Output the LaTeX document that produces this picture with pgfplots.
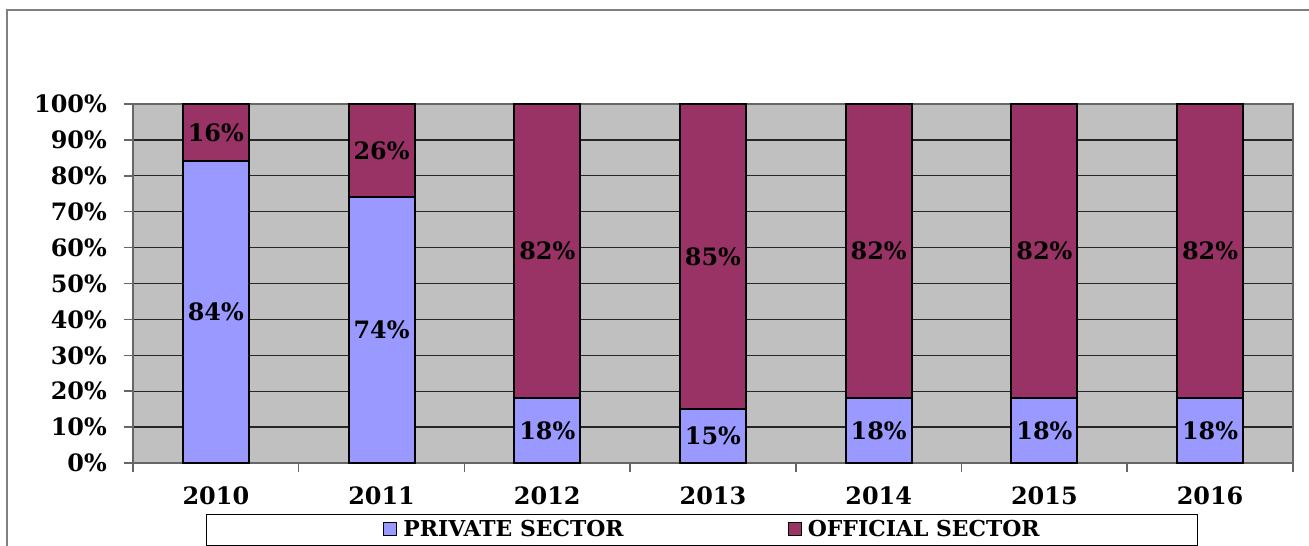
\documentclass[border=0pt]{standalone}
\usepackage{fontspec}
\setmainfont{DejaVu Serif}
\usepackage{pgfplots}
\usepackage{pgfplotstable}
\pgfplotsset{compat=1.18}
\definecolor{privc}{HTML}{9999FF}
\definecolor{offc}{HTML}{993366}
\definecolor{bggray}{HTML}{C0C0C0}
\definecolor{framec}{HTML}{808080}
\newcommand\tickfont{\fontsize{24}{28}\selectfont\bfseries}
\newcommand\legfont{\fontsize{22}{26}\selectfont\bfseries}
\pgfplotstableread{
x priv off
0 84 16
1 74 26
2 18 82
3 15 85
4 18 82
5 18 82
6 18 82
}\datatable
\begin{document}
\begin{tikzpicture}
\useasboundingbox (0,0) rectangle (1309bp,546bp);
\draw[framec, line width=1.5bp] (7bp,0) -- (7bp,536bp) -- (1309bp,536bp);
\begin{axis}[
  at={(133bp,83bp)}, anchor=south west,
  width=1160bp, height=359bp, scale only axis,
  xmin=-0.5, xmax=6.5, ymin=0, ymax=100,
  axis background/.style={fill=bggray},
  axis line style={draw=black!60, line width=1.5bp},
  ymajorgrids, grid style={draw=black!85, line width=1.3bp},
  tick align=outside, major tick length=9bp, tick pos=left,
  tick style={draw=black!60, line width=1.5bp},
  ytick={0,10,...,100},
  yticklabels={0\%,10\%,20\%,30\%,40\%,50\%,60\%,70\%,80\%,90\%,100\%},
  yticklabel style={font=\tickfont, inner sep=0pt, anchor=east, xshift=-17bp},
  xtick={-0.5,0.5,...,6.5},
  xticklabels={,,,,,,,},
  extra x ticks={0,1,2,3,4,5,6},
  extra x tick labels={2010,2011,2012,2013,2014,2015,2016},
  extra x tick style={major tick length=0pt},
  xticklabel style={font=\tickfont, inner sep=0pt, anchor=center, yshift=-33bp},
  legend columns=2,
  legend cell align=left,
  legend style={at={(0.2155,-0.1838)}, anchor=west, draw=none, fill=none,
    inner sep=0pt, font=\legfont,
    /tikz/every even column/.append style={column sep=162bp}},
  nodes near coords style={font=\tickfont, anchor=center, inner sep=0pt},
]
\addplot[ybar, bar width=66bp, bar shift=0pt, fill=privc, draw=black, line width=2bp,
  legend image code/.code={\draw[fill=privc, draw=black, line width=1.2bp] (0bp,-6.5bp) rectangle (13bp,6.5bp);}]
  table[x=x, y=priv] {\datatable};
\addlegendentry{\hspace{4bp}PRIVATE SECTOR}
\addplot[ybar, bar width=66bp, bar shift=0pt, fill=offc, draw=black, line width=2bp,
  legend image code/.code={\draw[fill=offc, draw=black, line width=1.2bp] (0bp,-6.5bp) rectangle (13bp,6.5bp);}]
  table[x=x, y expr=\thisrow{priv}+\thisrow{off}] {\datatable};
\addlegendentry{\hspace{4bp}OFFICIAL SECTOR}
\addplot[ybar, bar width=66bp, bar shift=0pt, fill=privc, draw=black, line width=2bp, forget plot]
  table[x=x, y=priv] {\datatable};
\addplot[forget plot, only marks, mark=*, mark size=0pt, mark options={draw=none, fill=none},
  point meta=\thisrow{priv},
  nodes near coords={\pgfmathprintnumber[assume math mode=true]{\pgfplotspointmeta}\%}]
  table[x=x, y expr=\thisrow{priv}/2] {\datatable};
\addplot[forget plot, only marks, mark=*, mark size=0pt, mark options={draw=none, fill=none},
  point meta=\thisrow{off},
  nodes near coords={\pgfmathprintnumber[assume math mode=true]{\pgfplotspointmeta}\%}]
  table[x=x, y expr=\thisrow{priv}+\thisrow{off}/2] {\datatable};
\end{axis}
\draw[black, line width=1bp] (206bp,1bp) rectangle (1197bp,31bp);
\end{tikzpicture}
\end{document}
